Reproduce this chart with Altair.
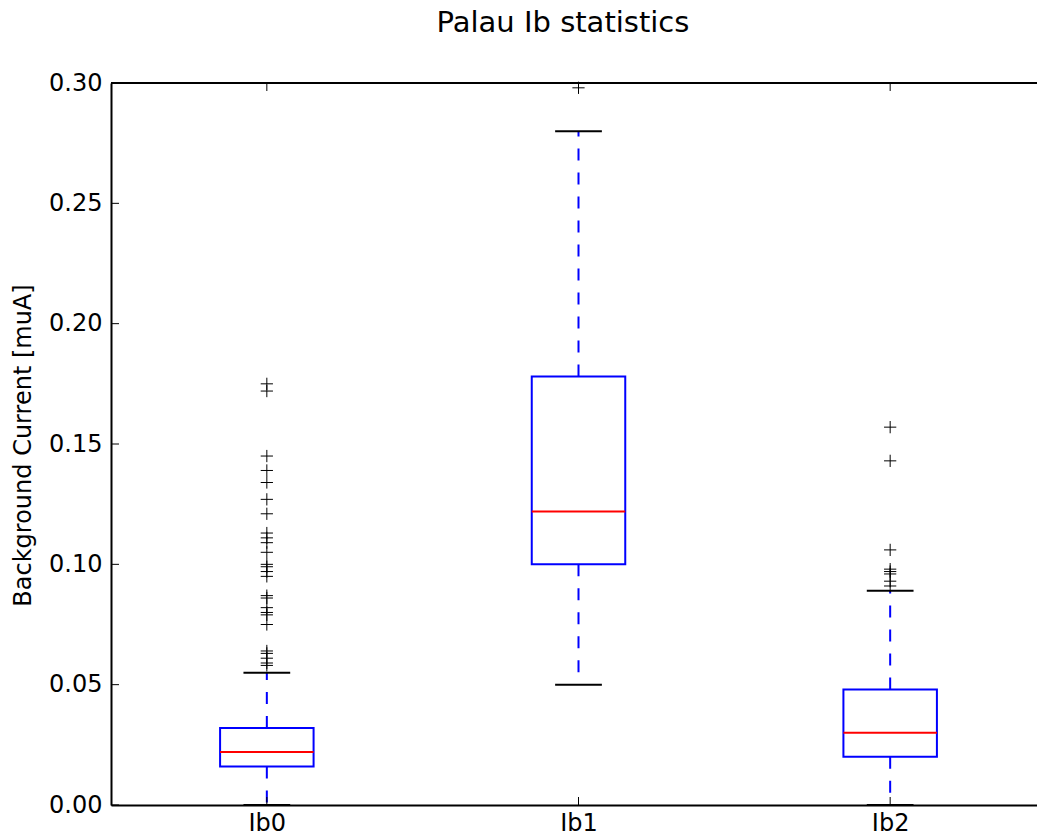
import altair as alt
import pandas as pd

# Box statistics per channel
names = ["Ib0", "Ib1", "Ib2"]
positions = [1, 2, 3]
q1 = [0.016, 0.100, 0.020]
medians = [0.022, 0.122, 0.030]
q3 = [0.032, 0.178, 0.048]
whisker_lo = [0.0, 0.050, 0.0]
whisker_hi = [0.055, 0.280, 0.089]

# Points beyond the whiskers
fliers_ib0 = [0.175, 0.172, 0.145, 0.139, 0.134, 0.127, 0.121, 0.113, 0.111,
              0.109, 0.105, 0.100, 0.099, 0.097, 0.095, 0.087, 0.086, 0.082,
              0.080, 0.079, 0.075, 0.064, 0.063, 0.061, 0.059, 0.058]
fliers_ib1 = [0.298]
fliers_ib2 = [0.157, 0.143, 0.106, 0.098, 0.097, 0.096, 0.093, 0.091]

y_ticks = [0.0, 0.05, 0.10, 0.15, 0.20, 0.25, 0.30]

W, H = 926, 722
PX_PER_UNIT = 935 / 3
X_DOMAIN = [0.5, 0.5 + W / PX_PER_UNIT]
BOX_HALF = 0.15
CAP_HALF = 0.075
FONT = "DejaVu Sans"

stats = pd.DataFrame({
    "name": names, "pos": positions, "q1": q1, "med": medians,
    "q3": q3, "lo": whisker_lo, "hi": whisker_hi,
})
stats["left"] = stats["pos"] - BOX_HALF
stats["right"] = stats["pos"] + BOX_HALF
stats["cap_l"] = stats["pos"] - CAP_HALF
stats["cap_r"] = stats["pos"] + CAP_HALF

fliers = pd.DataFrame({
    "pos": [1] * len(fliers_ib0) + [2] * len(fliers_ib1) + [3] * len(fliers_ib2),
    "value": fliers_ib0 + fliers_ib1 + fliers_ib2,
})

xs = alt.Scale(domain=X_DOMAIN, nice=False, zero=False)
ys = alt.Scale(domain=[0, 0.30], nice=False, zero=False)

label_list = "[" + ",".join(f"'{n}'" for n in names) + "]"

x_axis = alt.Axis(
    values=positions, labelExpr=f"{label_list}[round(datum.value) - 1]",
    tickSize=0, ticks=False, grid=False, title=None, labelFontSize=24, labelFont=FONT,
    labelColor="black", labelPadding=6, domainColor="black", domainWidth=2,
)
y_axis = alt.Axis(
    values=y_ticks, format=".2f", tickSize=0, ticks=False, grid=False,
    labelFontSize=24, labelFont=FONT, labelColor="black", labelPadding=9,
    domainColor="black", domainWidth=2,
    title="Background Current [muA]", titleFont=FONT, titleFontSize=24,
    titleFontWeight="normal", titleColor="black", titleAngle=270,
    titleX=-88, titleY=362, titleAlign="center", titleBaseline="middle",
)


def X(field):
    return alt.X(field, type="quantitative", scale=xs, axis=x_axis)


def Y(field):
    return alt.Y(field, type="quantitative", scale=ys, axis=y_axis)


base = alt.Chart(stats)
dash = [12, 12]

upper_whisker = base.mark_rule(color="blue", strokeWidth=2, strokeDash=dash).encode(
    x=X("pos"), y=Y("q3"), y2="hi:Q",
)
lower_whisker = base.mark_rule(color="blue", strokeWidth=2, strokeDash=dash).encode(
    x=X("pos"), y=Y("q1"), y2="lo:Q",
)
cap_hi = base.mark_rule(color="black", strokeWidth=2).encode(
    x=X("cap_l"), x2="cap_r:Q", y=Y("hi"),
)
cap_lo = base.mark_rule(color="black", strokeWidth=2).encode(
    x=X("cap_l"), x2="cap_r:Q", y=Y("lo"),
)
boxes = base.mark_rect(filled=False, stroke="blue", strokeWidth=2).encode(
    x=X("left"), x2="right:Q", y=Y("q1"), y2="q3:Q",
)
median_lines = base.mark_rule(color="red", strokeWidth=2).encode(
    x=X("left"), x2="right:Q", y=Y("med"),
)
flier_marks = alt.Chart(fliers).mark_point(
    shape="M-1,0L1,0M0,-1L0,1", size=150, filled=False,
    stroke="black", strokeWidth=1, opacity=1,
).encode(x=X("pos"), y=Y("value"))

# Inward-pointing ticks and the top spine
ytick_df = pd.DataFrame({"v": y_ticks})
xtick_df = pd.DataFrame({"pos": positions})
ytick_marks = alt.Chart(ytick_df).mark_rule(color="black", strokeWidth=1).encode(
    y=Y("v"), x=alt.value(0), x2=alt.value(8),
)
xtick_bottom = alt.Chart(xtick_df).mark_rule(color="black", strokeWidth=1).encode(
    x=X("pos"), y=alt.value(H), y2=alt.value(H - 8),
)
xtick_top = alt.Chart(xtick_df).mark_rule(color="black", strokeWidth=1).encode(
    x=X("pos"), y=alt.value(0), y2=alt.value(8),
)
top_spine = alt.Chart(pd.DataFrame({"a": [0]})).mark_rule(color="black", strokeWidth=2).encode(
    x=alt.value(0), x2=alt.value(W), y=alt.value(0),
)

chart = alt.layer(
    upper_whisker, lower_whisker, cap_hi, cap_lo, boxes, median_lines,
    flier_marks, ytick_marks, xtick_bottom, xtick_top, top_spine,
).properties(
    width=W, height=H,
    title=alt.TitleParams(
        "Palau Ib statistics", fontSize=29, font=FONT, fontWeight="normal",
        color="black", anchor="middle", dx=-11, offset=10, baseline="alphabetic",
    ),
    autosize=alt.AutoSizeParams(type="none"),
    padding={"left": 111, "top": 83, "right": 0, "bottom": 31},
).configure_view(stroke=None).configure(background="white")

chart.save("out.html", embed_options={"renderer": "svg", "actions": False})
